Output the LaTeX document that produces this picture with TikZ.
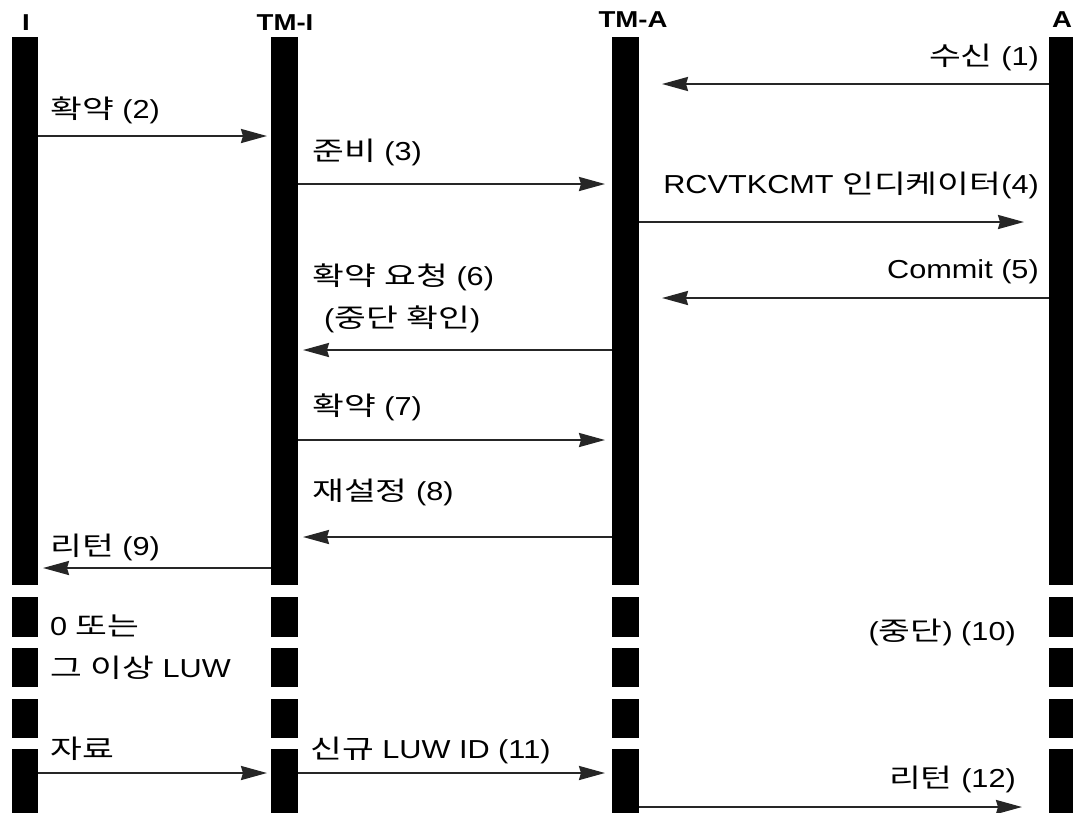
\documentclass[tikz,border=0pt]{standalone}
\usepackage{fontspec}
\setmainfont{Liberation Sans}
\newfontfamily\lab[FakeStretch=1.18]{Liberation Sans}
\newfontfamily\kr[FakeStretch=1.33]{Noto Sans CJK KR}
\newfontfamily\hd[FakeStretch=1.2]{Liberation Sans}
\newcommand\K[1]{{\kr #1}}
\usetikzlibrary{arrows.meta}
\tikzset{
  bar/.style={fill=black},
  msg/.style={draw=black!85, line width=2.2pt, -{Stealth[length=26pt,width=14pt,inset=2pt]}},
  lbl/.style={inner sep=0pt, font=\lab\fontsize{26}{30}\selectfont},
  hdr/.style={inner sep=0pt, font=\hd\bfseries\fontsize{23}{27}\selectfont},
}
\begin{document}
\begin{tikzpicture}[x=1pt,y=-1pt]
\useasboundingbox (0,0) rectangle (1073,812);
% lifeline bars
\foreach \xl/\xr in {12/38, 271/298, 612/639, 1049/1076}{
  \foreach \ya/\yb in {37/585, 597/637, 648/687, 699/738, 749/815}{
    \path[bar] (\xl,\ya) rectangle (\xr,\yb);
  }
}
% headers
\node[hdr, anchor=base] (hI) at (26,30) {I};
\node[hdr, anchor=base] (hTMI) at (285,30) {TM-I};
\node[hdr, anchor=base] (hTMA) at (633,27) {TM-A};
\node[hdr, anchor=base west] (hA) at (1052,27) {A};
% arrow end points
\coordinate (s1) at (1049,84);  \coordinate (e1) at (662,84);
\coordinate (s2) at (38,136);   \coordinate (e2) at (267,136);
\coordinate (s3) at (298,184);  \coordinate (e3) at (605,184);
\coordinate (s4) at (639,222);  \coordinate (e4) at (1024,222);
\coordinate (s5) at (1049,298); \coordinate (e5) at (662,298);
\coordinate (s6) at (612,350);  \coordinate (e6) at (303,350);
\coordinate (s7) at (298,440);  \coordinate (e7) at (605,440);
\coordinate (s8) at (612,537);  \coordinate (e8) at (303,537);
\coordinate (s9) at (271,568);  \coordinate (e9) at (43,568);
\coordinate (s11a) at (38,773); \coordinate (e11a) at (267,773);
\coordinate (s11b) at (298,773);\coordinate (e11b) at (605,773);
\coordinate (s12) at (639,807); \coordinate (e12) at (1022,807);
\foreach \n in {1,2,3,4,5,6,7,8,9,11a,11b,12}{
  \draw[msg] (s\n) -- (e\n);
}
% labels
\node[lbl, anchor=base east] (l1) at (1039,65) {\K{수신} (1)};
\node[lbl, anchor=base west] (l2) at (50,118) {\K{확약} (2)};
\node[lbl, anchor=base west] (l3) at (312,160) {\K{준비} (3)};
\node[lbl, anchor=base east] (l4) at (1039,193) {RCVTKCMT \K{인디케이터}(4)};
\node[lbl, anchor=base east] (l5) at (1039,278) {Commit (5)};
\node[lbl, anchor=base west] (l6a) at (312,285) {\K{확약} \K{요청} (6)};
\node[lbl, anchor=base west] (l6b) at (324,327) {(\K{중단} \K{확인})};
\node[lbl, anchor=base west] (l7) at (312,415) {\K{확약} (7)};
\node[lbl, anchor=base west] (l8) at (312,500) {\K{재설정} (8)};
\node[lbl, anchor=base west] (l9) at (50,555) {\K{리턴} (9)};
\node[lbl, anchor=base west] (l0a) at (50,635) {0 \K{또는}};
\node[lbl, anchor=base west] (l0b) at (50,677) {\K{그} \K{이상} LUW};
\node[lbl, anchor=base east] (l10) at (1016,640) {(\K{중단}) (10)};
\node[lbl, anchor=base west] (l11a) at (50,758) {\K{자료}};
\node[lbl, anchor=base west] (l11b) at (310,758) {\K{신규} LUW ID (11)};
\node[lbl, anchor=base east] (l12) at (1016,787) {\K{리턴} (12)};
\end{tikzpicture}
\end{document}
